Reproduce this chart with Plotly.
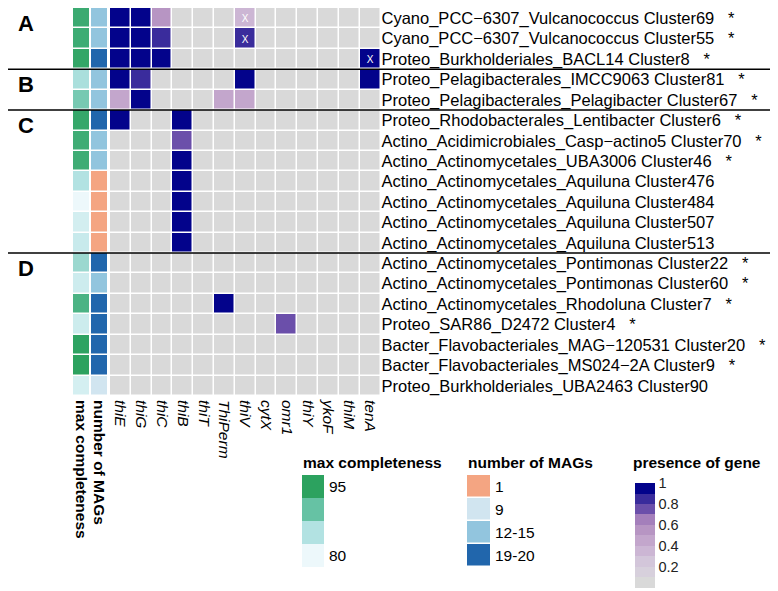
import plotly.graph_objects as go

# the page body adds an 8px margin: the figure is sized/placed to compensate
OFF = 8
W, H = 778 - OFF, 591 - OFF

genes = ["thiE", "thiG", "thiC", "thiB", "thiT", "ThiPerm", "thiV", "cytX", "omr1", "thiY", "ykoF", "thiM", "tenA"]

row_names = [
    "Cyano_PCC−6307_Vulcanococcus Cluster69",
    "Cyano_PCC−6307_Vulcanococcus Cluster55",
    "Proteo_Burkholderiales_BACL14 Cluster8",
    "Proteo_Pelagibacterales_IMCC9063 Cluster81",
    "Proteo_Pelagibacterales_Pelagibacter Cluster67",
    "Proteo_Rhodobacterales_Lentibacter Cluster6",
    "Actino_Acidimicrobiales_Casp−actino5 Cluster70",
    "Actino_Actinomycetales_UBA3006 Cluster46",
    "Actino_Actinomycetales_Aquiluna Cluster476",
    "Actino_Actinomycetales_Aquiluna Cluster484",
    "Actino_Actinomycetales_Aquiluna Cluster507",
    "Actino_Actinomycetales_Aquiluna Cluster513",
    "Actino_Actinomycetales_Pontimonas Cluster22",
    "Actino_Actinomycetales_Pontimonas Cluster60",
    "Actino_Actinomycetales_Rhodoluna Cluster7",
    "Proteo_SAR86_D2472 Cluster4",
    "Bacter_Flavobacteriales_MAG−120531 Cluster20",
    "Bacter_Flavobacteriales_MS024−2A Cluster9",
    "Proteo_Burkholderiales_UBA2463 Cluster90",
]
starred = [True, True, True, True, True, True, True, True, False, False, False, False,
           True, True, True, True, True, True, False]

groups = ["A", "B", "C", "D"]
group_sizes = [3, 2, 7, 7]

max_completeness = [93.7, 93.5, 94.4, 85.5, 88.9, 94.2, 93.4, 93.4, 85.0, 80.0, 82.2, 83.1,
                    86.5, 82.7, 92.3, 82.8, 94.8, 95.0, 82.1]

mag_levels = ["1", "9", "12-15", "19-20"]
mag_colors = ["#f4a582", "#d1e5f0", "#92c5de", "#2166ac"]
n_mags = ["12-15", "12-15", "19-20", "12-15", "12-15", "19-20", "12-15", "12-15",
          "1", "1", "1", "1", "19-20", "12-15", "19-20", "19-20", "19-20", "19-20", "9"]

presence = [
    [1, 1, 0.55, 0, 0, 0, 0.35, 0, 0, 0, 0, 0, 0],
    [1, 1, 0.85, 0, 0, 0, 0.85, 0, 0, 0, 0, 0, 0],
    [1, 1, 1, 0, 0, 0, 0, 0, 0, 0, 0, 0, 1],
    [1, 0.85, 0, 0, 0, 0, 1, 0, 0, 0, 0, 0, 1],
    [0.45, 1, 0, 0, 0, 0.45, 0.45, 0, 0, 0, 0, 0, 0],
    [1, 0, 0, 1, 0, 0, 0, 0, 0, 0, 0, 0, 0],
    [0, 0, 0, 0.75, 0, 0, 0, 0, 0, 0, 0, 0, 0],
    [0, 0, 0, 1, 0, 0, 0, 0, 0, 0, 0, 0, 0],
    [0, 0, 0, 1, 0, 0, 0, 0, 0, 0, 0, 0, 0],
    [0, 0, 0, 1, 0, 0, 0, 0, 0, 0, 0, 0, 0],
    [0, 0, 0, 1, 0, 0, 0, 0, 0, 0, 0, 0, 0],
    [0, 0, 0, 1, 0, 0, 0, 0, 0, 0, 0, 0, 0],
    [0, 0, 0, 0, 0, 0, 0, 0, 0, 0, 0, 0, 0],
    [0, 0, 0, 0, 0, 0, 0, 0, 0, 0, 0, 0, 0],
    [0, 0, 0, 0, 0, 1, 0, 0, 0, 0, 0, 0, 0],
    [0, 0, 0, 0, 0, 0, 0, 0, 0.75, 0, 0, 0, 0],
    [0, 0, 0, 0, 0, 0, 0, 0, 0, 0, 0, 0, 0],
    [0, 0, 0, 0, 0, 0, 0, 0, 0, 0, 0, 0, 0],
    [0, 0, 0, 0, 0, 0, 0, 0, 0, 0, 0, 0, 0],
]
marks = [["" for _ in genes] for _ in row_names]
marks[0][6] = "X"
marks[1][6] = "X"
marks[2][12] = "X"

presence_bins = ["#d9d9d9", "#d7d0dc", "#d3c6da", "#ccb6d4", "#c3a6cc",
                 "#b795c3", "#a47fbb", "#6b4faa", "#3a2c9c", "#03038b"]
presence_ticks = [1, 0.8, 0.6, 0.4, 0.2]

compl_stops = [80, 85, 90, 95]
compl_colors = ["#edf8fb", "#b2e2e2", "#66c2a4", "#2ca25f"]
compl_legend = [95, 90, 85, 80]

# ---------------------------------------------------------------------------
FONT = "Liberation Sans, Arial, sans-serif"
NB = "\u00a0"
ytext = [n + (NB * 3 + "*" if s else "") for n, s in zip(row_names, starred)]


def px_x(p):
    return (p - OFF) / W


def px_y(p):
    return 1 - (p - OFF) / H


compl_cs = [[(v - compl_stops[0]) / (compl_stops[-1] - compl_stops[0]), c]
            for v, c in zip(compl_stops, compl_colors)]
nb = len(presence_bins)
pres_cs = []
for i, c in enumerate(presence_bins):
    pres_cs.append([i / nb, c])
    pres_cs.append([(i + 1) / nb, c])
mag_cs = []
for i, c in enumerate(mag_colors):
    mag_cs.append([i / len(mag_colors), c])
    mag_cs.append([(i + 1) / len(mag_colors), c])
mag_code = [mag_levels.index(m) for m in n_mags]

fig = go.Figure()

fig.add_trace(go.Heatmap(
    x=["max completeness"], y=ytext, z=[[v] for v in max_completeness],
    colorscale=compl_cs, zmin=compl_stops[0], zmax=compl_stops[-1],
    showscale=False, ygap=1.5, xaxis="x", yaxis="y", hoverinfo="skip"))

fig.add_trace(go.Heatmap(
    x=["number of MAGs"], y=ytext, z=[[v] for v in mag_code],
    colorscale=mag_cs, zmin=-0.5, zmax=len(mag_levels) - 0.5,
    showscale=False, ygap=1.5, xaxis="x2", yaxis="y", hoverinfo="skip"))

fig.add_trace(go.Heatmap(
    x=genes, y=ytext, z=presence, text=marks, texttemplate="%{text}",
    textfont=dict(color="white", size=10, family=FONT),
    colorscale=pres_cs, zmin=0, zmax=1, xgap=1.5, ygap=1.5,
    xaxis="x3", yaxis="y", hoverinfo="skip",
    colorbar=dict(
        x=px_x(634.5), xanchor="left", y=px_y(483), yanchor="top",
        len=105, lenmode="pixels", thickness=20, thicknessmode="pixels",
        xpad=0, ypad=0, outlinewidth=0, ticks="",
        tickvals=presence_ticks, ticktext=[f"{t:g}" for t in presence_ticks],
        tickfont=dict(size=14.5, family=FONT, color="#222"),
    )))

# legend swatches
fig.add_trace(go.Heatmap(
    x=["c"], y=[str(v) for v in compl_legend], z=[[v] for v in compl_legend],
    colorscale=compl_cs, zmin=compl_stops[0], zmax=compl_stops[-1],
    showscale=False, xaxis="x4", yaxis="y4", hoverinfo="skip"))

fig.add_trace(go.Heatmap(
    x=["m"], y=mag_levels, z=[[i] for i in range(len(mag_levels))],
    colorscale=mag_cs, zmin=-0.5, zmax=len(mag_levels) - 0.5, ygap=1.5,
    showscale=False, xaxis="x5", yaxis="y5", hoverinfo="skip"))

hm_top, hm_bot = OFF, 396
ydom = [px_y(hm_bot), px_y(hm_top)]
row_font = dict(size=16.5, family=FONT, color="black")
leg_font = dict(size=15.5, family=FONT, color="black")


def bottom_axis(x0, x1, **font_extra):
    return dict(domain=[px_x(x0), px_x(x1)], showgrid=False, zeroline=False, ticks="",
                tickangle=90, anchor="y", ticklabelstandoff=3,
                tickfont=dict(size=15.5, family=FONT, color="black", **font_extra))


fig.layout.xaxis = bottom_axis(73, 89, weight="bold")
fig.layout.xaxis2 = bottom_axis(91, 107, weight="bold")
fig.layout.xaxis3 = bottom_axis(110, 380.5, style="italic")
fig.layout.yaxis = dict(domain=ydom, anchor="x3", side="right", autorange="reversed",
                        showgrid=False, zeroline=False, ticks="", tickfont=row_font)

leg_top, leg_bot = 475, 567
fig.layout.xaxis4 = dict(domain=[px_x(302), px_x(324)], anchor="y4", visible=False)
fig.layout.yaxis4 = dict(domain=[px_y(leg_bot), px_y(leg_top)], anchor="x4", side="right",
                         autorange="reversed", showgrid=False, zeroline=False, ticks="",
                         ticklabelstandoff=4,
                         tickvals=[str(compl_legend[0]), str(compl_legend[-1])],
                         ticktext=[str(compl_legend[0]), str(compl_legend[-1])],
                         tickfont=leg_font)
fig.layout.xaxis5 = dict(domain=[px_x(467), px_x(490)], anchor="y5", visible=False)
fig.layout.yaxis5 = dict(domain=[px_y(leg_bot), px_y(leg_top)], anchor="x5", side="right",
                         autorange="reversed", showgrid=False, zeroline=False, ticks="",
                         ticklabelstandoff=4, tickfont=leg_font)

# group separators and letters
shapes = []
annotations = []
start = 0
for g, n in zip(groups, group_sizes):
    annotations.append(dict(text=f"<b>{g}</b>", x=px_x(26), xref="paper", y=start + 0.25, yref="y",
                            showarrow=False, font=dict(size=22, family=FONT, color="black"),
                            xanchor="center", yanchor="middle"))
    start += n
    if start < len(row_names):
        shapes.append(dict(type="line", xref="paper", x0=px_x(2), x1=1, yref="y",
                           y0=start - 0.5, y1=start - 0.5, line=dict(color="black", width=1.5)))

for title, xpx in [("max completeness", 301), ("number of MAGs", 466), ("presence of gene", 631)]:
    annotations.append(dict(text=f"<b>{title}</b>", x=px_x(xpx), y=px_y(463), xref="paper", yref="paper",
                            xanchor="left", yanchor="middle", showarrow=False,
                            font=dict(size=15.5, family=FONT, color="black")))

fig.update_layout(
    width=W, height=H, margin=dict(l=0, r=0, t=0, b=0, autoexpand=False),
    paper_bgcolor="white", plot_bgcolor="white",
    font=dict(family=FONT, color="black"),
    shapes=shapes, annotations=annotations, showlegend=False,
)

fig.write_html("out.html")
